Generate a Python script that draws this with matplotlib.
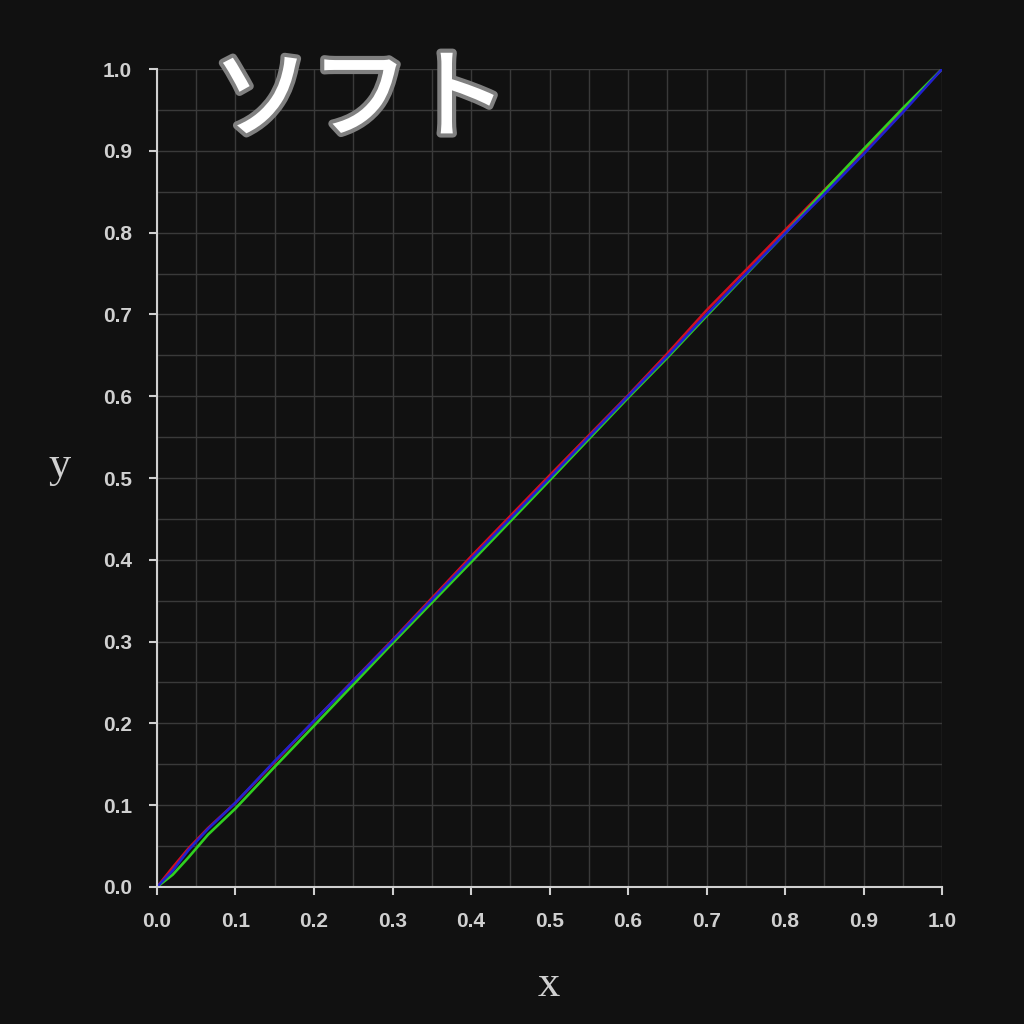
import numpy as np
import matplotlib.pyplot as plt
import matplotlib.patheffects as pe
from matplotlib.ticker import MultipleLocator

# curve samples
x_vals = [0.0, 0.02, 0.04, 0.065, 0.1, 0.15, 0.2, 0.3, 0.4, 0.5, 0.6, 0.65, 0.7, 0.8, 0.85, 0.9, 0.95, 1.0]
red_vals = [0.0, 0.024, 0.047, 0.072, 0.103, 0.153, 0.203, 0.302, 0.404, 0.503, 0.601, 0.652, 0.705, 0.803, 0.852, 0.900, 0.950, 1.0]
green_vals = [0.0, 0.015, 0.036, 0.064, 0.096, 0.147, 0.197, 0.298, 0.397, 0.497, 0.598, 0.647, 0.698, 0.799, 0.851, 0.902, 0.952, 1.0]
blue_vals = [0.0, 0.020, 0.045, 0.071, 0.103, 0.154, 0.203, 0.301, 0.401, 0.500, 0.600, 0.649, 0.700, 0.799, 0.847, 0.896, 0.947, 1.0]
title = 'ソフト'

bg = '#111111'
fg = '#d0d0d0'

fig = plt.figure(figsize=(10.24, 10.24), dpi=100, facecolor=bg)
ax = fig.add_axes([0.1533, 0.1338, 0.7667, 0.7988], facecolor=bg)

ax.plot(x_vals, red_vals, color='#d01020', lw=1.9)
ax.plot(x_vals, green_vals, color='#30d020', lw=1.9)
ax.plot(x_vals, blue_vals, color='#2020d0', lw=1.9)

ax.set_xlim(0, 1)
ax.set_ylim(0, 1)
ax.xaxis.set_major_locator(MultipleLocator(0.1))
ax.yaxis.set_major_locator(MultipleLocator(0.1))
ax.xaxis.set_minor_locator(MultipleLocator(0.05))
ax.yaxis.set_minor_locator(MultipleLocator(0.05))
ax.grid(which='both', color='#3a3a3a', lw=1.0)
ax.set_axisbelow(True)
ax.tick_params(which='minor', length=0)
ax.tick_params(which='major', length=6, width=1.5, color=fg)
ax.tick_params(axis='x', pad=12)
ax.tick_params(axis='y', pad=12)
for lab in ax.get_xticklabels() + ax.get_yticklabels():
    lab.set_fontfamily('Liberation Sans')
    lab.set_fontweight('bold')
    lab.set_fontsize(15)
    lab.set_color(fg)
ax.xaxis.set_major_formatter(lambda v, p: f'{v:.1f}')
ax.yaxis.set_major_formatter(lambda v, p: f'{v:.1f}')

for s in ['top', 'right']:
    ax.spines[s].set_visible(False)
for s in ['left', 'bottom']:
    ax.spines[s].set_color(fg)
    ax.spines[s].set_linewidth(1.5)

fig.text(0.536, 0.038, 'x', family='Liberation Serif', fontsize=32, color=fg, ha='center', va='center')
fig.text(0.058, 0.545, 'y', family='Liberation Serif', fontsize=32, color=fg, ha='center', va='center')

fig.text(0.207, 0.901, title, family=['Noto Sans CJK JP', 'DejaVu Sans'], fontsize=71,
         fontweight='medium', color='white', ha='left', va='center',
         path_effects=[pe.withStroke(linewidth=6, foreground='#808080')])

fig.savefig('out.png', dpi=100, facecolor=bg)
